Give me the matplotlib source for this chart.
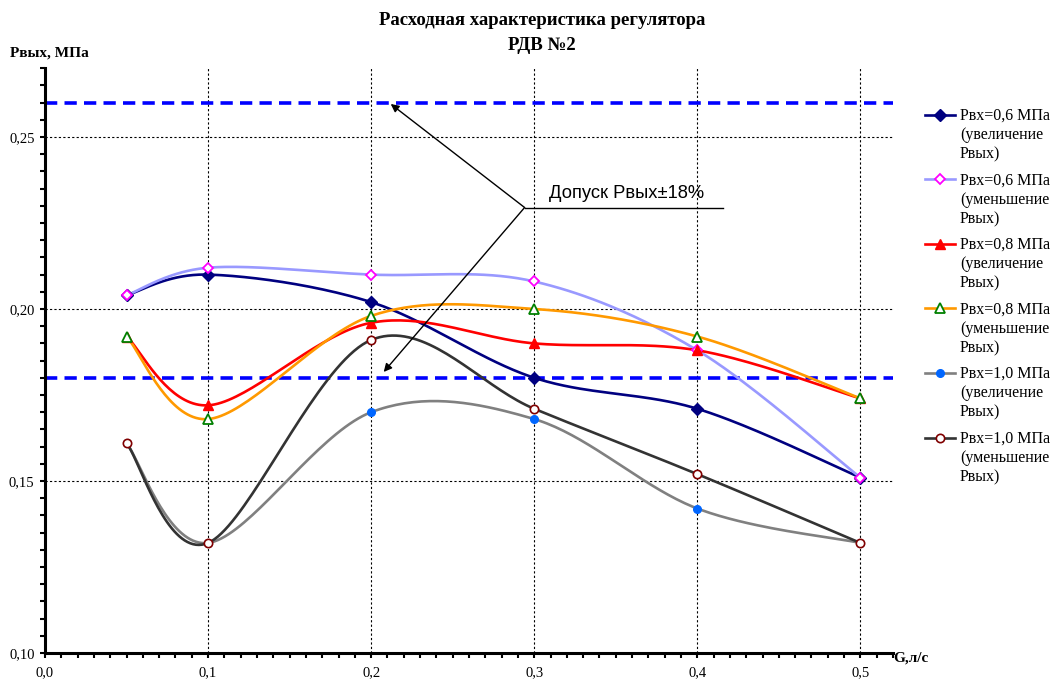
import numpy as np
import matplotlib
matplotlib.use("Agg")
import matplotlib.pyplot as plt
from matplotlib.lines import Line2D
from matplotlib.ticker import MultipleLocator, FuncFormatter

# расход, л/с
g = [0.05, 0.1, 0.2, 0.3, 0.4, 0.5]

# выходное давление, МПа
p06_up = [0.204, 0.210, 0.202, 0.180, 0.171, 0.151]
p06_down = [0.204, 0.212, 0.210, 0.208, 0.188, 0.151]
p08_up = [0.192, 0.172, 0.196, 0.190, 0.188, 0.174]
p08_down = [0.192, 0.168, 0.198, 0.200, 0.192, 0.174]
p10_up = [0.161, 0.132, 0.170, 0.168, 0.142, 0.132]
p10_down = [0.161, 0.132, 0.191, 0.171, 0.152, 0.132]

labels = [
    "Рвх=0,6 МПа\n(увеличение\nРвых)",
    "Рвх=0,6 МПа\n(уменьшение\nРвых)",
    "Рвх=0,8 МПа\n(увеличение\nРвых)",
    "Рвх=0,8 МПа\n(уменьшение\nРвых)",
    "Рвх=1,0 МПа\n(увеличение\nРвых)",
    "Рвх=1,0 МПа\n(уменьшение\nРвых)",
]

# допуск ±18% от номинала
tol_high = 0.26
tol_low = 0.18


def smooth(xs, ys, n=40):
    # сглаженная линия как в Excel (кривые Безье по Катмуллу-Рому)
    p = np.column_stack([xs, ys]).astype(float)
    p = np.vstack([p[0], p, p[-1]])
    out = []
    t = np.linspace(0, 1, n)[:, None]
    for i in range(1, len(p) - 2):
        p0, p3 = p[i], p[i + 1]
        c1 = p0 + (p[i + 1] - p[i - 1]) / 6
        c2 = p3 - (p[i + 2] - p[i]) / 6
        seg = ((1 - t) ** 3) * p0 + 3 * ((1 - t) ** 2) * t * c1 + 3 * (1 - t) * t ** 2 * c2 + t ** 3 * p3
        out.append(seg if i == 1 else seg[1:])
    out = np.vstack(out)
    return out[:, 0], out[:, 1]


serif = "Liberation Serif"
W, H = 1051, 680

fig = plt.figure(figsize=(W / 100, H / 100), dpi=100)
ax = fig.add_axes([45 / W, 1 - 653 / H, (893 - 45) / W, (653 - 68.2) / H])

ax.set_xlim(0, 0.52)
ax.set_ylim(0.10, 0.27)

# сетка
for xv in [0.1, 0.2, 0.3, 0.4, 0.5]:
    ax.axvline(xv, color="black", lw=0.8, ls=(0, (2, 2)), zorder=1)
for yv in [0.15, 0.20, 0.25]:
    ax.axhline(yv, color="black", lw=0.8, ls=(0, (2, 2)), zorder=1)

# границы допуска
for yv in [tol_high, tol_low]:
    ax.axhline(yv, color="#0000FF", lw=2.6, ls=(0, (3.4, 2.0)), zorder=2)

styles = [
    (p06_up, "#000080", dict(marker="D", ms=6, mfc="#000080", mec="#000080")),
    (p06_down, "#9999FF", dict(marker="D", ms=5.5, mfc="white", mec="#FF00FF", mew=1.3)),
    (p08_up, "#FF0000", dict(marker="^", ms=7, mfc="#FF0000", mec="#FF0000")),
    (p08_down, "#FF9900", dict(marker="^", ms=7, mfc="white", mec="#008000", mew=1.3)),
    (p10_up, "#808080", dict(marker="o", ms=5.5, mfc="#0066FF", mec="#0066FF")),
    (p10_down, "#333333", dict(marker="o", ms=6, mfc="white", mec="#800000", mew=1.2)),
]

for vals, col, mk in styles:
    sx, sy = smooth(g, vals)
    ax.plot(sx, sy, color=col, lw=1.9, zorder=3, solid_capstyle="round")
    ax.plot(g, vals, ls="none", zorder=4, **mk)

# легенда справа: маркер на уровне первой строки подписи
for i, ((vals, col, mk), lab) in enumerate(zip(styles, labels)):
    y0 = 1 - (115 + 64.5 * i) / H
    fig.add_artist(Line2D([925 / W, 955 / W], [y0, y0], color=col, lw=1.9,
                          transform=fig.transFigure))
    fig.add_artist(Line2D([940 / W], [y0], ls="none", transform=fig.transFigure, **mk))
    fig.text(960 / W, y0 + 7 / H, lab, ha="left", va="top", family=serif,
             fontsize=11.5, linespacing=1.27)

# оси
for s in ["top", "right"]:
    ax.spines[s].set_visible(False)
for s in ["left", "bottom"]:
    ax.spines[s].set_linewidth(2.2)

ax.xaxis.set_major_locator(MultipleLocator(0.1))
ax.xaxis.set_minor_locator(MultipleLocator(0.01))
ax.yaxis.set_major_locator(MultipleLocator(0.05))
ax.yaxis.set_minor_locator(MultipleLocator(0.005))
ax.xaxis.set_major_formatter(FuncFormatter(lambda v, _: f"{v:.1f}".replace(".", ",")))
ax.yaxis.set_major_formatter(FuncFormatter(lambda v, _: f"{v:.2f}".replace(".", ",")))
ax.tick_params(which="both", direction="out", length=3.5, width=1.5, color="black")
ax.tick_params(axis="y", pad=4, labelsize=10.5)
ax.tick_params(axis="x", pad=6, labelsize=10.5)
for t in ax.get_xticklabels() + ax.get_yticklabels():
    t.set_fontfamily(serif)

# подпись допуска со стрелками
ax.plot([0.2941, 0.416], [0.2295, 0.2295], color="black", lw=1.0, zorder=5)
for tip in [(0.212, 0.2596), (0.2077, 0.1817)]:
    ax.annotate("", xy=tip, xytext=(0.2941, 0.2295),
                arrowprops=dict(arrowstyle="-|>", color="black", lw=1.0,
                                mutation_scale=12, shrinkA=0, shrinkB=0), zorder=5)
ax.text(0.3088, 0.2322, "Допуск Рвых±18%", family="Liberation Sans", fontsize=13.2,
        ha="left", va="baseline", zorder=5)

fig.text(542 / W, 1 - 33 / H, "Расходная характеристика регулятора\nРДВ №2",
         ha="center", va="center", family=serif, fontweight="bold", fontsize=13.5,
         linespacing=1.55)
fig.text(10 / W, 1 - 53 / H, "Рвых, МПа", ha="left", va="center",
         family=serif, fontweight="bold", fontsize=11)
fig.text(893 / W, 1 - 658 / H, "G,л/с", ha="left", va="center",
         family=serif, fontweight="bold", fontsize=11)

fig.savefig("out.png", dpi=100)
